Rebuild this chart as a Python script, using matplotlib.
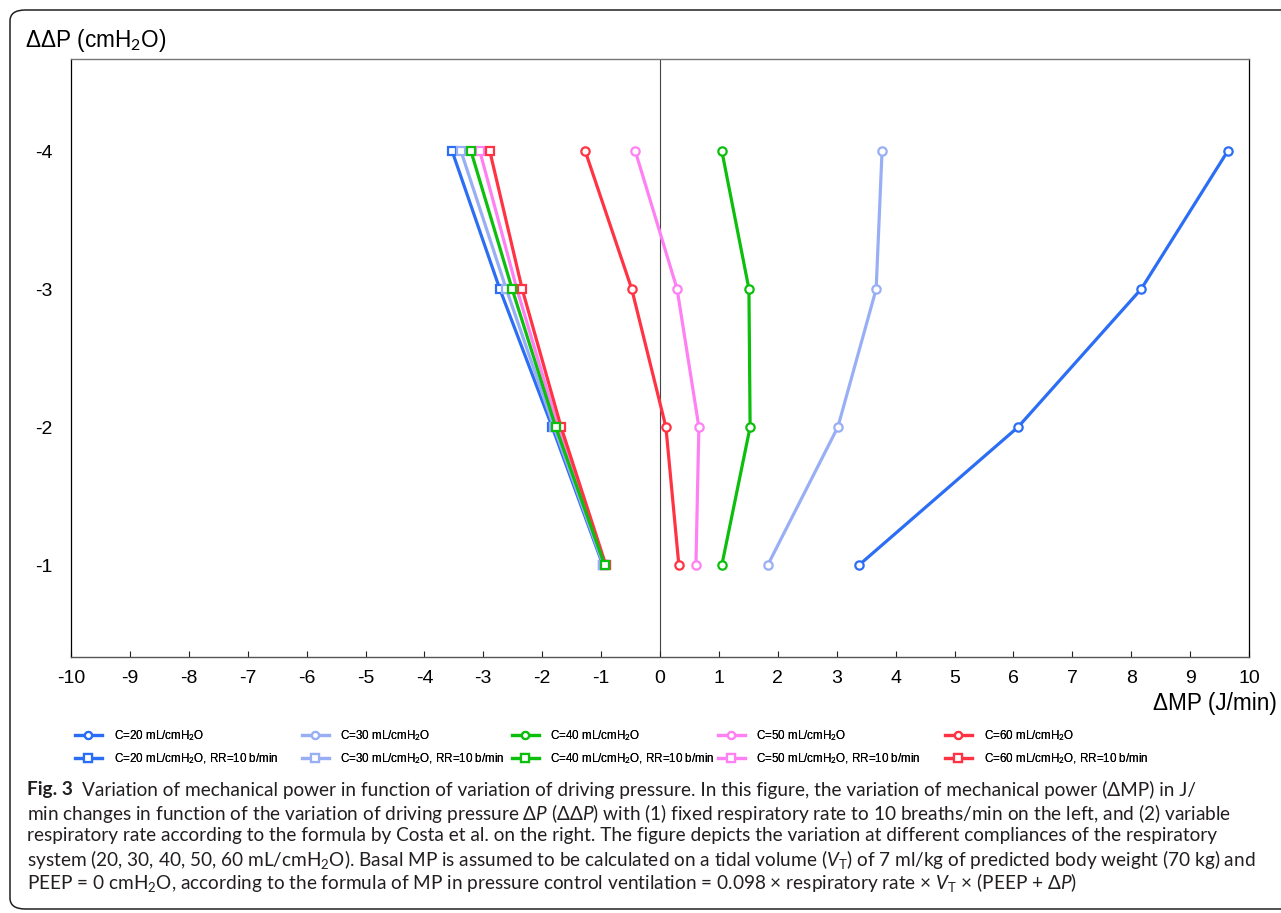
import matplotlib
matplotlib.use("Agg")
import matplotlib.pyplot as plt
from matplotlib.patches import FancyBboxPatch

plt.rcParams['axes.unicode_minus'] = False
plt.rcParams['font.family'] = ['Liberation Sans', 'DejaVu Sans']
plt.rcParams['mathtext.fontset'] = 'custom'
plt.rcParams['mathtext.rm'] = 'Lato'
plt.rcParams['mathtext.it'] = 'Lato:italic'
plt.rcParams['mathtext.bf'] = 'Lato:bold'

# ---------------- data ----------------
ddp = [-4, -3, -2, -1]  # ΔΔP (cmH2O)

compliances = [20, 30, 40, 50, 60]
colors = ['#2b6ef5', '#99aff5', '#0cbf0c', '#ff80f2', '#ff3344']

# variable respiratory rate (circles)
mp_c20 = [9.64, 8.17, 6.08, 3.38]
mp_c30 = [3.77, 3.67, 3.02, 1.83]
mp_c40 = [1.05, 1.51, 1.53, 1.05]
mp_c50 = [-0.42, 0.29, 0.66, 0.61]
mp_c60 = [-1.27, -0.48, 0.10, 0.32]

# fixed RR = 10 b/min (squares)
mp_c20_rr10 = [-3.53, -2.72, -1.83, -0.97]
mp_c30_rr10 = [-3.38, -2.61, -1.80, -0.96]
mp_c40_rr10 = [-3.21, -2.51, -1.77, -0.94]
mp_c50_rr10 = [-3.06, -2.43, -1.73, -0.93]
mp_c60_rr10 = [-2.89, -2.34, -1.68, -0.92]

variable_series = [mp_c20, mp_c30, mp_c40, mp_c50, mp_c60]
fixed_series = [mp_c20_rr10, mp_c30_rr10, mp_c40_rr10, mp_c50_rr10, mp_c60_rr10]

x_ticks = list(range(-10, 11))
y_ticks = [-4, -3, -2, -1]

# ---------------- figure ----------------
W, H = 1281, 913
fig = plt.figure(figsize=(W / 100, H / 100), dpi=100)

def fx(px):
    return px / W

def fy(py):
    return 1 - py / H

# outer rounded frame
frame = FancyBboxPatch((fx(10), fy(909)), fx(1320) - fx(10), fy(10) - fy(909),
                       boxstyle="round,pad=0,rounding_size=0.012",
                       transform=fig.transFigure, fill=False,
                       edgecolor='#231f20', linewidth=1.1, zorder=0)
fig.patches.append(frame)

ax = fig.add_axes([fx(71), fy(657), fx(1249) - fx(71), fy(59) - fy(657)])
ax.set_xlim(-10, 10)
ax.set_ylim(-1 + (657 - 565) / 138, -4 - (151 - 59) / 138)

ax.axvline(0, color='#444444', lw=0.8, zorder=1)

handles_var = []
handles_fix = []
for c, col, ys in zip(compliances, colors, fixed_series):
    h, = ax.plot(ys, ddp, color=col, lw=2.3, marker='s', ms=6,
                 mfc='white', mec=col, mew=1.6,
                 label=f'C={c} mL/cmH$_2$O, RR=10 b/min', zorder=3)
    handles_fix.append(h)
# green squares on top at overlap
handles_fix[2].set_zorder(4)
for c, col, ys in zip(compliances, colors, variable_series):
    h, = ax.plot(ys, ddp, color=col, lw=2.3, marker='o', ms=6,
                 mfc='white', mec=col, mew=1.6,
                 label=f'C={c} mL/cmH$_2$O', zorder=3)
    handles_var.append(h)

ax.set_xticks(x_ticks)
ax.set_xticklabels([str(v) for v in x_ticks])
ax.set_yticks(y_ticks)
ax.set_yticklabels([str(v) for v in y_ticks])
ax.tick_params(axis='x', direction='in', length=4, width=0.8, pad=9,
               labelsize=14, colors='#222222', labelcolor='black')
ax.tick_params(axis='y', length=0, pad=13, labelsize=14, labelcolor='black')
for side in ['left', 'right']:
    ax.spines[side].set_color('black')
    ax.spines[side].set_linewidth(0.9)
ax.spines['top'].set_color('#777777')
ax.spines['top'].set_linewidth(1.0)
ax.spines['bottom'].set_color('#555555')
ax.spines['bottom'].set_linewidth(1.0)

fig.text(fx(25), fy(40), 'ΔΔP (cmH$_2$O)', fontsize=16.3, ha='left', va='center',
         family=['Liberation Sans', 'DejaVu Sans'])
fig.text(fx(1277), fy(703), 'ΔMP (J/min)', fontsize=16.3, ha='right', va='center',
         family=['Liberation Sans', 'DejaVu Sans'])

# ---------------- legend (5 columns, 2 rows) ----------------
col_x = [75, 302, 512, 718, 945]
for i in range(5):
    leg = fig.legend([handles_var[i], handles_fix[i]],
                     [handles_var[i].get_label(), handles_fix[i].get_label()],
                     loc='upper left', bbox_to_anchor=(fx(col_x[i]), fy(728)),
                     bbox_transform=fig.transFigure, frameon=False,
                     fontsize=8.4, handlelength=2.3, handletextpad=1.0,
                     borderpad=0, borderaxespad=0, labelspacing=0.72,
                     markerscale=0.85)
    fig.add_artist(leg)

# ---------------- caption ----------------
cap_color = '#231f20'
cap_fs = 13.7
cap_family = ['Lato', 'DejaVu Sans']
cap_lines = [
    'Variation of mechanical power in function of variation of driving pressure. In this figure, the variation of mechanical power (ΔMP) in J/',
    'min changes in function of the variation of driving pressure Δ$\\mathit{P}$ (ΔΔ$\\mathit{P}$) with (1) fixed respiratory rate to 10 breaths/min on the left, and (2) variable',
    'respiratory rate according to the formula by Costa et al. on the right. The figure depicts the variation at different compliances of the respiratory',
    'system (20, 30, 40, 50, 60 mL/cmH$_2$O). Basal MP is assumed to be calculated on a tidal volume ($\\mathit{V}_\\mathrm{T}$) of 7 ml/kg of predicted body weight (70 kg) and',
    'PEEP = 0 cmH$_2$O, according to the formula of MP in pressure control ventilation = 0.098 × respiratory rate × $\\mathit{V}_\\mathrm{T}$ × (PEEP + Δ$\\mathit{P}$)',
]
line_y = [788, 811, 834, 857, 880]

renderer = fig.canvas.get_renderer()
tb = fig.text(fx(27), fy(line_y[0]), 'Fig. 3', fontsize=cap_fs, fontweight='bold',
              family=cap_family, color=cap_color, ha='left', va='center_baseline')
bb = tb.get_window_extent(renderer=renderer)
x_after = bb.x1 + 9
fig.text(x_after / W, fy(line_y[0]), cap_lines[0], fontsize=cap_fs, family=cap_family,
         color=cap_color, ha='left', va='center_baseline')
for txt, yy in zip(cap_lines[1:], line_y[1:]):
    fig.text(fx(27), fy(yy), txt, fontsize=cap_fs, family=cap_family,
             color=cap_color, ha='left', va='center_baseline')

fig.savefig('out.png', dpi=100)
